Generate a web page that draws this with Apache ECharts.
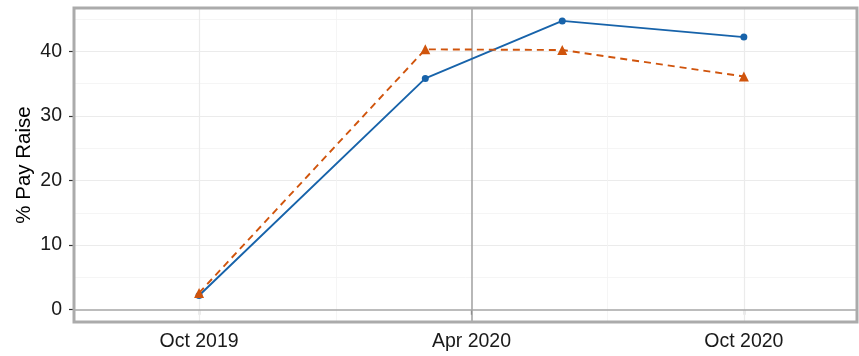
<!DOCTYPE html>
<html>
<head>
<meta charset="utf-8">
<script src="https://cdn.jsdelivr.net/npm/echarts@6/dist/echarts.min.js"></script>
<style>html,body{margin:0;padding:0;background:#fff;}#c{width:859px;height:356px;}</style>
</head>
<body>
<div id="c"></div>
<script>
// ---- data ----
const dates = ['2019-10-01', '2020-03-01', '2020-06-01', '2020-10-01'];
const seriesA = [2.2, 35.8, 44.7, 42.2];   // blue, solid, circles
const seriesB = [2.6, 40.3, 40.2, 36.1];   // orange, dashed, triangles
const xTickDates = ['2019-10-01', '2020-04-01', '2020-10-01'];
const xMinorDates = ['2020-01-01', '2020-07-01'];
const xMajorGridDates = ['2019-10-01', '2020-10-01'];
const xMarkerDate = '2020-04-01';
const xRange = ['2019-07-09', '2020-12-16'];
const yTicks = [0, 10, 20, 30, 40];
const yMinor = [5, 15, 25, 35, 45];
const yRange = [-1.9, 46.7];
const yTitle = '% Pay Raise';

const MONTHS = ['Jan','Feb','Mar','Apr','May','Jun','Jul','Aug','Sep','Oct','Nov','Dec'];
const ts = s => Date.parse(s + 'T00:00:00Z');
const fmt = v => { const d = new Date(v); return MONTHS[d.getUTCMonth()] + ' ' + d.getUTCFullYear(); };

const FONT = '"Liberation Sans", Arial, Helvetica, sans-serif';
const chart = echarts.init(document.getElementById('c'), null, {renderer: 'canvas'});

const gridLines = [];
yTicks.filter(v => v !== 0).forEach(v => gridLines.push({yAxis: v, lineStyle: {color: '#ebebeb', width: 1.2, type: 'solid'}}));
yMinor.forEach(v => gridLines.push({yAxis: v, lineStyle: {color: '#f2f2f2', width: 0.8, type: 'solid'}}));
xMajorGridDates.forEach(d => gridLines.push({xAxis: ts(d), lineStyle: {color: '#ebebeb', width: 1.2, type: 'solid'}}));
xMinorDates.forEach(d => gridLines.push({xAxis: ts(d), lineStyle: {color: '#f2f2f2', width: 0.8, type: 'solid'}}));
gridLines.push({yAxis: 0, lineStyle: {color: '#a6a6a6', width: 1.6, type: 'solid'}});
gridLines.push({xAxis: ts(xMarkerDate), lineStyle: {color: '#a6a6a6', width: 1.6, type: 'solid'}});

chart.setOption({
  animation: false,
  backgroundColor: '#ffffff',
  grid: {left: 74, right: 2, top: 8, bottom: 34, containLabel: false, outerBoundsMode: 'none',
         show: true, borderColor: '#ababab', borderWidth: 3, backgroundColor: 'transparent', z: 10},
  xAxis: {
    type: 'value',
    min: ts(xRange[0]), max: ts(xRange[1]),
    axisLine: {show: false},
    splitLine: {show: false},
    axisTick: {show: true, length: 5, customValues: xTickDates.map(ts), lineStyle: {color: '#333', width: 1.2}},
    axisLabel: {customValues: xTickDates.map(ts), formatter: fmt, margin: 10, color: '#1a1a1a', fontSize: 19.5, fontFamily: FONT}
  },
  yAxis: {
    type: 'value',
    min: yRange[0], max: yRange[1],
    name: yTitle, nameLocation: 'middle', nameGap: 39, nameMoveOverlap: false,
    nameTextStyle: {fontSize: 20.5, color: '#000', fontFamily: FONT},
    axisLine: {show: false},
    splitLine: {show: false},
    axisTick: {show: true, length: 5, customValues: yTicks, lineStyle: {color: '#333', width: 1.2}},
    axisLabel: {customValues: yTicks, margin: 12, color: '#1a1a1a', fontSize: 19.5, fontFamily: FONT}
  },
  series: [
    {
      type: 'line', data: [], z: 1, silent: true,
      markLine: {silent: true, symbol: ['none', 'none'], label: {show: false}, emphasis: {disabled: true}, animation: false, data: gridLines}
    },
    {
      type: 'line', z: 5,
      data: dates.map((d, i) => [ts(d), seriesA[i]]),
      lineStyle: {color: '#1763aa', width: 1.9, type: 'solid'},
      itemStyle: {color: '#1763aa'},
      symbol: 'circle', symbolSize: 7, showSymbol: true
    },
    {
      type: 'line', z: 5,
      data: dates.map((d, i) => [ts(d), seriesB[i]]),
      lineStyle: {color: '#d0540c', width: 1.9, type: [7, 5]},
      itemStyle: {color: '#d0540c'},
      symbol: 'triangle', symbolSize: 10, showSymbol: true
    }
  ]
});
</script>
</body>
</html>
